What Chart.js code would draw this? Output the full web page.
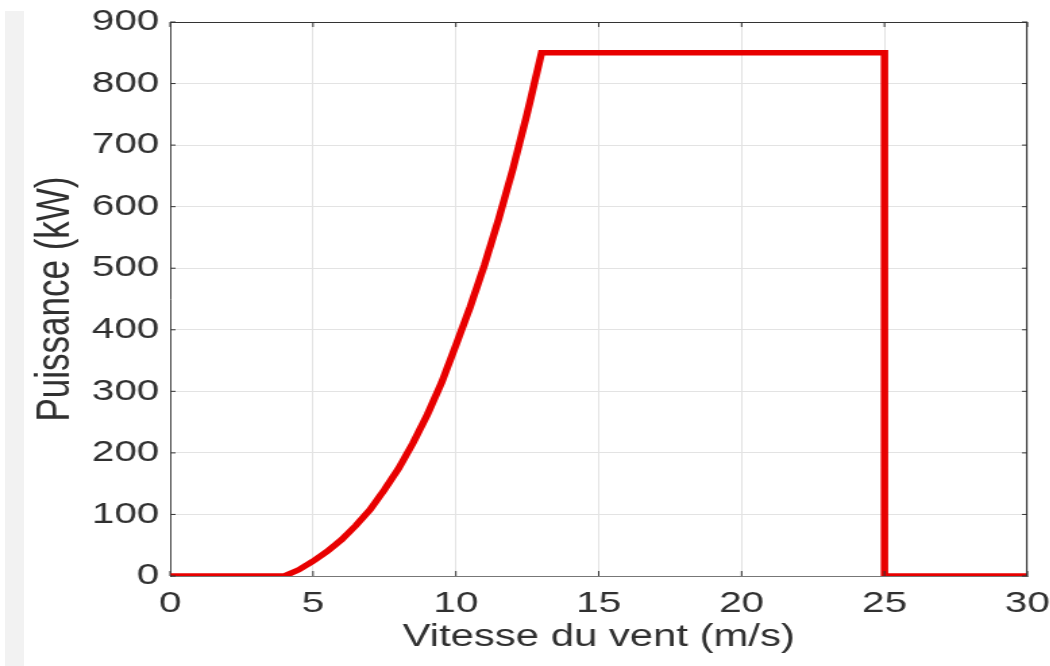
<!DOCTYPE html>
<html lang="fr">
<head>
<meta charset="UTF-8">
<title>Puissance vs vitesse du vent</title>
<style>
    * { margin: 0; padding: 0; box-sizing: border-box; }
    body {
        width: 1050px;
        height: 666px;
        background: #fff;
        overflow: hidden;
        position: relative;
        font-family: 'Liberation Sans', Arial, sans-serif;
    }
    /* light strip at the left edge */
    .strip {
        position: absolute;
        left: 5px;
        top: 11px;
        width: 19px;
        bottom: 0;
        background: #f2f2f2;
    }
    /* the original picture is stretched sideways */
    .wrap {
        position: absolute;
        left: 0;
        top: 0;
        width: 778px;
        height: 666px;
        transform: scaleX(1.35);
        transform-origin: 0 0;
    }
</style>
<script src="https://cdn.jsdelivr.net/npm/chart.js"></script>
</head>
<body>
<div class="strip"></div>
<div class="wrap"><canvas id="powerChart"></canvas></div>

<script>
// wind speed (m/s) and power (kW)
const windSpeed = [0, 4, 4.5, 5, 5.5, 6, 6.5, 7, 7.5, 8, 8.5, 9, 9.5, 10, 10.5, 11, 11.5, 12, 12.5, 13, 25, 25, 30];
const power     = [0, 0, 10, 24, 40, 59, 82, 108, 140, 175, 216, 262, 314, 375, 437, 505, 580, 662, 752, 850, 850, 0, 0];

const xTicks = [0, 5, 10, 15, 20, 25, 30];
const yTicks = [0, 100, 200, 300, 400, 500, 600, 700, 800, 900];

const textColor = '#303030';
const gridColor = '#e3e3e3';

// box on top/right + small inward ticks on all sides
const boxPlugin = {
    id: 'box',
    afterDraw(chart) {
        const { ctx, chartArea: a, scales } = chart;
        ctx.save();
        ctx.strokeStyle = '#333';
        ctx.lineWidth = 1;
        ctx.beginPath();
        ctx.moveTo(a.left, a.top + 0.5);
        ctx.lineTo(a.right, a.top + 0.5);
        ctx.moveTo(a.right - 0.5, a.top);
        ctx.lineTo(a.right - 0.5, a.bottom);
        xTicks.forEach(v => {
            const px = scales.x.getPixelForValue(v);
            ctx.moveTo(px, a.bottom); ctx.lineTo(px, a.bottom - 5);
            ctx.moveTo(px, a.top); ctx.lineTo(px, a.top + 5);
        });
        yTicks.forEach(v => {
            const py = scales.y.getPixelForValue(v);
            ctx.moveTo(a.left, py); ctx.lineTo(a.left + 4, py);
            ctx.moveTo(a.right, py); ctx.lineTo(a.right - 4, py);
        });
        ctx.stroke();
        ctx.restore();
    }
};

const ctx = document.getElementById('powerChart').getContext('2d');
new Chart(ctx, {
    type: 'line',
    data: {
        datasets: [{
            data: windSpeed.map((v, i) => ({ x: v, y: power[i] })),
            borderColor: 'rgb(232, 0, 0)',
            borderWidth: 5.5,
            borderJoinStyle: 'miter',
            pointRadius: 0,
            tension: 0,
            fill: false
        }]
    },
    options: {
        responsive: true,
        maintainAspectRatio: false,
        animation: false,
        layout: { padding: { top: 22, right: 17, bottom: 0, left: 0 } },
        plugins: {
            legend: { display: false },
            tooltip: { enabled: false }
        },
        scales: {
            x: {
                type: 'linear',
                min: 0,
                max: 30,
                afterBuildTicks: s => { s.ticks = xTicks.map(v => ({ value: v })); },
                afterFit: s => { s.height = 90; s.paddingLeft = 0; s.paddingRight = 0; },
                grid: { color: gridColor, drawTicks: false },
                border: { color: '#777', width: 1 },
                ticks: {
                    color: textColor,
                    font: { size: 30, family: 'Liberation Sans' },
                    padding: 10,
                    maxRotation: 0
                },
                title: {
                    display: true,
                    text: 'Vitesse du vent (m/s)',
                    color: textColor,
                    font: { size: 31, family: 'Liberation Sans' },
                    padding: { top: 0, bottom: 10 }
                }
            },
            y: {
                min: 0,
                max: 900,
                afterBuildTicks: s => { s.ticks = yTicks.map(v => ({ value: v })); },
                afterFit: s => { s.width = 126; s.paddingTop = 0; s.paddingBottom = 0; },
                grid: { color: gridColor, drawTicks: false },
                border: { color: '#444', width: 1 },
                ticks: {
                    color: textColor,
                    font: { size: 30, family: 'Liberation Sans' },
                    padding: 8
                },
                title: {
                    display: true,
                    text: 'Puissance (kW)',
                    color: textColor,
                    font: { size: 35, family: 'Liberation Sans' },
                    padding: { top: 20, bottom: 0 }
                }
            }
        }
    },
    plugins: [boxPlugin]
});
</script>
</body>
</html>
